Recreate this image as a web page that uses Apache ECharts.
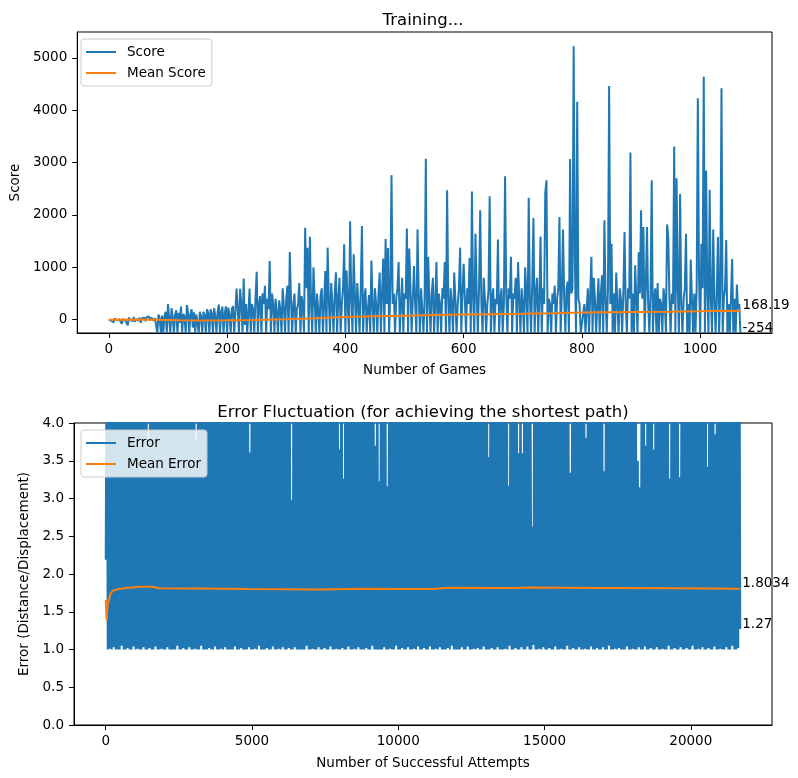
<!DOCTYPE html>
<html>
<head>
<meta charset="utf-8">
<script src="https://cdn.jsdelivr.net/npm/echarts@6/dist/echarts.min.js"></script>
<style>
  html, body { margin: 0; padding: 0; background: #fff; }
  #main { width: 798px; height: 778px; }
</style>
</head>
<body>
<div id="main"></div>
<script>
// 上图: score per game, one reading every 2 games
const scoreStep = 2
const scores = [
  0, 10, -20, 15, -50, 20, 0, -10, 25, 5, -20, -80, 10, 30, -10,
  10, -110, 40, 0, 20, -30, 50, -40, 10, 45, -20, 40, -60, 30, 20,
  40, -30, 50, 20, 60, -10, 40, 10, -20, 30, 60, -254, 100, 30, -254,
  80, -254, 60, 150, -254, 300, 40, -254, 220, 60, -254, 90, 180, -254, 130,
  -60, 250, -254, 110, 60, -254, 280, 130, -254, 100, 200, -150, 140, -254, 100,
  120, -254, 150, 60, -254, 150, 90, -254, 200, 130, -254, 200, 120, -254, 220,
  80, -254, 150, 290, -254, 150, 250, -254, 120, 255, -254, 230, 100, -254, 200,
  260, -254, 150, 597, 200, -254, 590, 300, -254, 787, -100, 300, -254, 150, 597,
  -254, 300, 200, -254, 400, 913, -254, 300, 450, -254, 500, 300, 646, -254, 400,
  200, 1122, -254, 500, 300, -254, 400, 150, -254, 370, 200, -254, 600, 250, -254,
  400, 650, -254, 1293, 400, -254, 300, 500, -254, 200, 300, 700, -254, 450, 300,
  -254, 1757, 600, 1376, -254, 1585, 300, -254, 1000, 400, -254, 500, 200, -254, 450,
  600, -254, 300, 930, -254, 1376, 400, -254, 700, 300, -254, 500, 905, -254, 400,
  800, -254, 300, 600, 1440, -254, 940, 300, -254, 1880, 400, -254, 1250, 500, -254,
  700, 300, -254, 600, 1788, -254, 400, 600, -254, 200, 470, -254, 1130, 300, -254,
  600, 300, -254, 500, 900, -254, 520, 1170, -254, 1540, 300, 1370, -254, 600, 2757,
  300, 500, -254, 400, 600, 1100, -254, 300, 800, -254, 500, 400, 1740, -254, 1357,
  600, -254, 400, 1027, 300, -254, 1724, 500, -254, 600, 200, -254, 400, 3074, -254,
  1200, 400, -254, 500, 800, -254, 300, 1100, -254, 500, 300, -254, 600, 400, 1100,
  -254, 2472, 400, -254, 600, 300, -254, 900, 400, -254, 300, 600, 1376, -254, 500,
  1070, 400, -254, 600, 300, 1180, -254, 2450, 400, -254, 1640, 500, -254, 600, 2091,
  300, -254, 800, 400, -254, 300, 550, 2357, -254, 400, 600, -254, 400, 300, 1530,
  -254, 400, 600, -254, 300, 2738, 500, -254, 600, 400, 1200, -254, 500, 400, 800,
  -254, 1100, 400, -254, 600, 300, -254, 1000, 500, -254, 2327, 400, -254, 700, 1940,
  -254, 500, 800, -254, 400, 1590, -254, 600, 300, 2421, 2662, -254, 400, 300, -254,
  500, 300, 650, -254, 400, 600, 1960, -254, 500, 1720, 400, -254, 600, 730, -254,
  3068, 500, 600, 5224, 1200, -254, 4163, 400, 300, -254, -254, 100, 300, -254, 200,
  600, -254, 500, 1200, -254, 800, 400, -254, 300, 790, -254, 500, 850, -254, 1900,
  400, -254, 600, 4462, 300, 1450, -254, 500, -254, 900, 300, -254, 600, 400, -254,
  500, 1674, 300, -254, 600, 400, 3194, -254, 500, -254, 1040, 400, -254, 1290, 500,
  2091, 400, 1770, -254, 600, 1770, 300, -254, 500, 2662, -254, 400, 600, -254, 700,
  -254, 400, 300, -254, 600, 400, -254, 1820, 1580, 400, -254, 500, 300, 3308, -254,
  2700, 600, -254, 2400, 300, -254, 400, 600, 1640, -254, 300, -254, 1150, 400, -254,
  500, -254, 600, 4228, 800, -254, 1450, 600, 4639, -254, 2850, 500, -254, 2480, 400,
  -254, 1720, 400, -254, 500, 1580, -254, 600, 4418, -254, 400, 600, 1520, -254, 300,
  -254, 400, 1160, -254, 400, -254, 670, 200, 300, -254
]
const meanScoreGames = [0, 40, 80, 120, 160, 200, 250, 300, 350, 400, 450, 500, 550, 600, 650, 700, 750, 800, 850, 900, 950, 1000, 1035, 1068]
const meanScores = [0, 5, 0, -12, -15, -12, -5, 10, 30, 52, 65, 77, 88, 97, 105, 113, 122, 136, 142, 148, 153, 160, 170, 168.19]
const gameTicks = [0, 200, 400, 600, 800, 1000]
const scoreTicks = [0, 1000, 2000, 3000, 4000, 5000]

// 下图: error per successful attempt, one reading every 34 attempts
const errorStep = 34
const errors = [
  2.19, 5.8, 1.0, 7.4, 1.01, 4.9, 1.0, 9.3, 1.03, 6.1, 1.0, 5.4, 1.0, 8.2, 1.0, 4.7, 1.05, 6.6, 1.0, 11.2,
  1.0, 5.3, 1.02, 7.1, 1.0, 4.5, 1.0, 6.9, 1.04, 5.2, 1.0, 8.8, 1.01, 4.4, 1.0, 6.2, 1.0, 5.7, 1.03, 7.6,
  1.0, 4.8, 1.0, 3.67, 1.02, 9.7, 1.0, 5.1, 1.0, 6.4, 1.04, 4.6, 1.0, 7.3, 1.0, 5.9, 1.01, 8.1, 1.0, 4.3,
  1.0, 6.7, 1.03, 5.5, 1.0, 10.4, 1.0, 4.9, 1.0, 7.2, 1.0, 5.0, 1.05, 6.3, 1.0, 4.5, 1.0, 8.6, 1.02, 5.8,
  1.0, 7.7, 1.0, 4.7, 1.03, 6.0, 1.0, 9.0, 1.0, 5.3, 1.01, 3.76, 1.0, 6.8, 1.0, 4.6, 1.05, 7.5, 1.0, 5.1,
  1.0, 6.5, 1.0, 4.4, 1.02, 8.3, 1.0, 5.6, 1.0, 7.0, 1.04, 4.8, 1.0, 6.1, 1.0, 12.1, 1.01, 5.0, 1.0, 4.3,
  1.03, 7.8, 1.0, 5.7, 1.0, 6.6, 1.0, 4.9, 1.0, 9.4, 1.04, 5.2, 1.0, 6.0, 1.0, 4.6, 1.02, 7.3, 1.0, 5.5,
  1.0, 8.0, 1.0, 4.7, 1.03, 3.61, 1.0, 6.9, 1.0, 5.4, 1.01, 7.1, 1.0, 4.5, 1.05, 6.2, 1.0, 5.9, 1.0, 10.0,
  1.0, 4.8, 1.02, 6.7, 1.0, 5.1, 1.0, 8.4, 1.04, 4.4, 1.0, 6.3, 1.0, 5.6, 1.01, 7.6, 1.0, 4.9, 1.03, 6.0,
  1.0, 5.3, 1.0, 9.1, 1.02, 4.6, 1.0, 2.98, 1.0, 7.2, 1.03, 5.0, 1.0, 6.5, 1.0, 4.3, 1.0, 8.7, 1.0, 5.8,
  1.0, 6.1, 1.05, 4.7, 1.0, 7.4, 1.0, 5.5, 1.01, 11.6, 1.0, 4.5, 1.0, 6.8, 1.03, 5.2, 1.0, 7.9, 1.0, 4.4,
  1.02, 6.4, 1.0, 5.7, 1.0, 8.5, 1.04, 4.8, 1.0, 6.0, 1.0, 5.1, 1.01, 7.3, 1.0, 3.65, 1.0, 6.6, 1.02, 3.26,
  1.0, 5.9, 1.0, 4.6, 1.04, 7.7, 1.0, 5.4, 1.0, 9.8, 1.01, 4.9, 1.0, 6.2, 1.03, 5.0, 1.0, 7.0, 1.0, 4.5,
  1.0, 6.9, 1.02, 5.3, 1.0, 8.1, 1.0, 4.7, 1.05, 6.4, 1.0, 3.7, 1.0, 5.6, 1.0, 3.23, 1.0, 7.5, 1.0, 4.8,
  1.03, 6.0, 1.0, 3.16, 1.0, 5.2, 1.01, 8.9, 1.0, 4.4, 1.0, 6.7, 1.05, 5.5, 1.0, 7.2, 1.0, 4.6, 1.02, 10.3,
  1.0, 5.0, 1.0, 6.3, 1.03, 4.9, 1.0, 7.8, 1.0, 5.7, 1.01, 4.3, 1.0, 6.1, 1.04, 8.6, 1.0, 5.1, 1.0, 4.7,
  1.02, 7.0, 1.0, 5.4, 1.0, 6.8, 1.04, 4.5, 1.0, 9.5, 1.0, 5.9, 1.01, 4.8, 1.0, 7.4, 1.03, 5.3, 1.0, 6.2,
  1.0, 4.6, 1.0, 8.0, 1.02, 5.6, 1.0, 4.4, 1.05, 6.9, 1.0, 5.0, 1.0, 7.6, 1.0, 4.7, 1.0, 6.0, 1.03, 11.0,
  1.0, 5.2, 1.0, 4.9, 1.04, 7.1, 1.0, 5.8, 1.0, 6.4, 1.01, 4.3, 1.0, 8.3, 1.02, 5.5, 1.0, 4.8, 1.0, 6.7,
  1.04, 5.1, 1.0, 7.5, 1.0, 3.55, 1.0, 6.2, 1.02, 4.6, 1.0, 9.2, 1.0, 5.4, 1.03, 4.9, 1.0, 6.8, 1.0, 5.7,
  1.0, 4.4, 1.01, 7.9, 1.0, 3.17, 1.05, 5.6, 1.0, 6.1, 1.0, 4.7, 1.02, 8.0, 1.0, 3.6, 1.0, 5.3, 1.03, 3.6,
  1.0, 6.5, 1.0, 4.8, 1.04, 7.2, 1.0, 5.0, 1.0, 2.63, 1.06, 6.0, 1.0, 4.5, 1.0, 8.7, 1.01, 5.9, 1.0, 4.6,
  1.03, 7.3, 1.0, 5.2, 1.0, 6.6, 1.02, 4.4, 1.0, 10.1, 1.0, 5.5, 1.04, 4.9, 1.0, 6.9, 1.0, 5.1, 1.01, 7.7,
  1.0, 4.7, 1.0, 6.3, 1.05, 5.8, 1.0, 3.34, 1.0, 4.5, 1.02, 8.2, 1.0, 5.6, 1.0, 6.0, 1.03, 4.8, 1.0, 7.0,
  1.0, 5.3, 1.01, 3.8, 1.0, 6.7, 1.0, 4.6, 1.04, 9.0, 1.0, 5.0, 1.0, 7.4, 1.02, 4.4, 1.0, 6.2, 1.0, 5.7,
  1.03, 3.36, 1.0, 4.9, 1.0, 8.4, 1.05, 5.4, 1.0, 6.1, 1.0, 4.7, 1.01, 7.6, 1.0, 5.2, 1.02, 4.5, 1.0, 6.8,
  1.0, 11.4, 1.0, 5.8, 1.04, 4.3, 1.0, 6.5, 1.0, 5.0, 1.01, 7.9, 1.0, 4.8, 1.0, 3.5, 1.03, 3.15, 1.0, 6.0,
  1.0, 5.4, 1.04, 3.7, 1.0, 7.1, 1.0, 4.6, 1.02, 5.9, 1.0, 3.65, 1.0, 6.4, 1.03, 8.8, 1.0, 4.9, 1.0, 5.3,
  1.01, 7.2, 1.0, 4.5, 1.0, 6.0, 1.05, 3.26, 1.0, 5.6, 1.0, 9.6, 1.02, 4.7, 1.0, 6.3, 1.0, 3.28, 1.03, 5.1,
  1.0, 7.8, 1.0, 4.4, 1.02, 6.6, 1.0, 5.2, 1.0, 8.1, 1.05, 4.8, 1.0, 5.9, 1.0, 7.0, 1.01, 4.6, 1.0, 6.2,
  1.03, 5.0, 1.0, 7.4, 1.0, 3.42, 1.02, 5.5, 1.0, 6.8, 1.0, 4.3, 1.04, 3.85, 1.0, 9.3, 1.0, 5.7, 1.01, 4.9,
  1.0, 6.1, 1.0, 4.6, 1.03, 7.7, 1.0, 5.3, 1.0, 6.4, 1.05, 4.8, 1.0, 8.5, 1.0, 5.1, 1.02, 6.9, 1.27
]
const meanErrorAttempts = [0, 17, 34, 51, 68, 100, 160, 250, 330, 450, 673, 900, 1130, 1400, 1600, 1815, 3200, 4900, 7300, 8900, 10000, 11200, 11700, 14000, 14400, 17000, 19500, 21692]
const meanErrors = [1.66, 1.5, 1.38, 1.52, 1.61, 1.64, 1.74, 1.78, 1.79, 1.8, 1.815, 1.82, 1.83, 1.832, 1.83, 1.81, 1.808, 1.8, 1.795, 1.803, 1.8, 1.8, 1.818, 1.816, 1.82, 1.816, 1.812, 1.8034]
const attemptTicks = [0, 5000, 10000, 15000, 20000]
const errorTicks = [0, 0.5, 1.0, 1.5, 2.0, 2.5, 3.0, 3.5, 4.0]

const FONT = 'DejaVu Sans'
const BLUE = '#1f77b4'
const ORANGE = '#ff7f0e'

function pairs(xs, ys) {
  return ys.map((y, i) => [xs[i], y])
}
function stepped(step, ys) {
  return ys.map((y, i) => [i * step, y])
}
function plain(v) {
  return String(v)
}

function xAxisOf(gridIndex, min, max, ticks, name, gap) {
  return {
    type: 'value', gridIndex: gridIndex, min: min, max: max,
    name: name, nameLocation: 'middle', nameGap: gap,
    nameTextStyle: { color: '#000', fontSize: 13.5, fontFamily: FONT },
    axisLine: { onZero: false, lineStyle: { color: '#000', width: 1 } },
    axisTick: { customValues: ticks, length: 5, lineStyle: { color: '#000' } },
    axisLabel: { customValues: ticks, margin: 9, color: '#000', fontSize: 13.5, fontFamily: FONT, formatter: plain },
    splitLine: { show: false }
  }
}
function yAxisOf(gridIndex, min, max, ticks, name, gap, fmt) {
  return {
    type: 'value', gridIndex: gridIndex, min: min, max: max,
    name: name, nameLocation: 'middle', nameGap: gap, nameRotate: 90,
    nameTextStyle: { color: '#000', fontSize: 13.5, fontFamily: FONT },
    axisLine: { onZero: false, lineStyle: { color: '#000', width: 1 } },
    axisTick: { customValues: ticks, length: 5, lineStyle: { color: '#000' } },
    axisLabel: { customValues: ticks, margin: 10, color: '#000', fontSize: 13.5, fontFamily: FONT, formatter: fmt },
    splitLine: { show: false }
  }
}
function endLabel() {
  return {
    show: true, distance: 2, offset: [0, -5],
    color: '#000', fontSize: 13.5, fontFamily: FONT,
    formatter: function (p) { return String(p.value[1]) }
  }
}
function legendAt(top, names) {
  return {
    data: names, orient: 'vertical', left: 81, top: top,
    icon: 'rect', itemWidth: 30, itemHeight: 2, itemGap: 5,
    padding: [5, 6, 5, 5],
    backgroundColor: 'rgba(255,255,255,0.8)', borderColor: '#cccccc', borderWidth: 1, borderRadius: 3,
    textStyle: { color: '#000', fontSize: 13.5, fontFamily: FONT, lineHeight: 16, padding: [0, 0, 0, 6] }
  }
}

let mychart = echarts.init(document.getElementById('main'))
let option = {
  animation: false,
  backgroundColor: '#fff',
  title: [
    { text: 'Training...', left: 418, top: 7, textAlign: 'center',
      textStyle: { color: '#000', fontSize: 16.5, fontWeight: 400, fontFamily: FONT } },
    { text: 'Error Fluctuation (for achieving the shortest path)', left: 418, top: 399, textAlign: 'center',
      textStyle: { color: '#000', fontSize: 16.5, fontWeight: 400, fontFamily: FONT } }
  ],
  legend: [
    legendAt(39, ['Score', 'Mean Score']),
    legendAt(430, ['Error', 'Mean Error'])
  ],
  grid: [
    { left: 74, top: 32, width: 698, height: 301, show: true, borderColor: '#000', borderWidth: 1 },
    { left: 74, top: 423, width: 698, height: 302, show: true, borderColor: '#000', borderWidth: 1 }
  ],
  xAxis: [
    xAxisOf(0, -53.4, 1121.4, gameTicks, 'Number of Games', 30),
    xAxisOf(1, -1085, 22777, attemptTicks, 'Number of Successful Attempts', 31)
  ],
  yAxis: [
    yAxisOf(0, -254, 5494, scoreTicks, 'Score', 49, plain),
    yAxisOf(1, 0, 4, errorTicks, 'Error (Distance/Displacement)', 37, function (v) { return v.toFixed(1) })
  ],
  series: [
    {
      name: 'Score', type: 'line', xAxisIndex: 0, yAxisIndex: 0,
      data: stepped(scoreStep, scores), showSymbol: false, symbol: 'none',
      color: BLUE, lineStyle: { width: 2, color: BLUE }, endLabel: endLabel()
    },
    {
      name: 'Mean Score', type: 'line', xAxisIndex: 0, yAxisIndex: 0,
      data: pairs(meanScoreGames, meanScores), showSymbol: false, symbol: 'none',
      color: ORANGE, lineStyle: { width: 2, color: ORANGE }, endLabel: endLabel()
    },
    {
      name: 'Error', type: 'line', xAxisIndex: 1, yAxisIndex: 1,
      data: stepped(errorStep, errors), showSymbol: false, symbol: 'none',
      color: BLUE, lineStyle: { width: 2, color: BLUE }, endLabel: endLabel()
    },
    {
      name: 'Mean Error', type: 'line', xAxisIndex: 1, yAxisIndex: 1,
      data: pairs(meanErrorAttempts, meanErrors), showSymbol: false, symbol: 'none',
      color: ORANGE, lineStyle: { width: 2, color: ORANGE }, endLabel: endLabel()
    }
  ]
}
mychart.setOption(option)
</script>
</body>
</html>
